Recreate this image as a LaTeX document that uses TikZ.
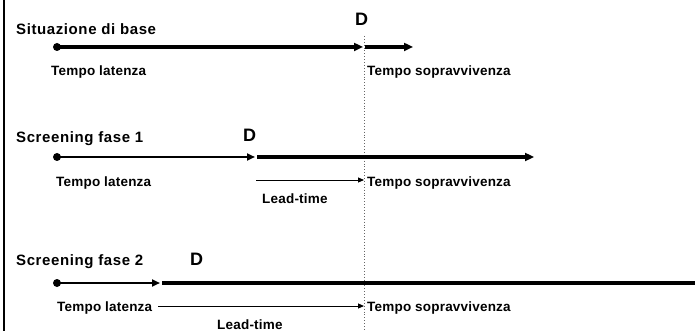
\documentclass[tikz,border=0pt]{standalone}
\usepackage{fontspec}
\setmainfont{Liberation Sans}
\usetikzlibrary{arrows.meta}
\tikzset{
  title/.style={font=\bfseries\fontsize{15}{17}\selectfont\addfontfeatures{LetterSpace=4}, anchor=base west, inner sep=0pt},
  lbl/.style={font=\bfseries\fontsize{13.5}{15}\selectfont\addfontfeatures{LetterSpace=1.5}, anchor=base west, inner sep=0pt},
  dlbl/.style={font=\bfseries\fontsize{18}{20}\selectfont, anchor=base west, inner sep=0pt},
  mainline/.style={line width=3.2pt, -{Triangle[length=9pt,width=8pt]}},
  thinmain/.style={line width=2.2pt, -{Triangle[length=8pt,width=7pt]}},
  plainmain/.style={line width=3.2pt},
  leadline/.style={line width=1pt, -{Triangle[length=6pt,width=5pt]}},
  startdot/.style={fill=black}
}
\begin{document}
\begin{tikzpicture}[x=1pt,y=-1pt]
\useasboundingbox (0,0) rectangle (695,331);
\fill[white] (0,0) rectangle (695,331);
% left border
\coordinate (bt) at (3.5,0);
\coordinate (bb) at (3.5,331);
\draw[line width=2pt] (bt) -- (bb);
% dotted diagnosis line
\coordinate (vt) at (364,36);
\coordinate (vb) at (364,331);
\draw[dotted, line width=0.9pt, gray!80!black] (vt) -- (vb);

% ---------- Row 1 ----------
\node[title] (t1) at (16,35) {Situazione di base};
\node[dlbl] (D1) at (355,26) {D};
\coordinate (s1) at (57,47);
\coordinate (d1) at (363,47);
\coordinate (d1b) at (365,47);
\coordinate (e1) at (413,47);
\draw[mainline] (s1) -- (d1);
\draw[mainline] (d1b) -- (e1);
\fill[startdot] (s1) circle (4);
\node[lbl] (l1) at (51,76) {Tempo latenza};
\node[lbl] (sv1) at (367,76) {Tempo sopravvivenza};

% ---------- Row 2 ----------
\node[title] (t2) at (16,143) {Screening fase 1};
\node[dlbl] (D2) at (243,142) {D};
\coordinate (s2) at (57,157);
\coordinate (d2) at (255,157);
\coordinate (d2b) at (257,157);
\coordinate (e2) at (534,157);
\draw[thinmain] (s2) -- (d2);
\draw[mainline] (d2b) -- (e2);
\fill[startdot] (s2) circle (4);
\node[lbl] (l2) at (56,186) {Tempo latenza};
\coordinate (lt2a) at (256,180);
\coordinate (lt2b) at (364,180);
\draw[leadline] (lt2a) -- (lt2b);
\node[lbl] (sv2) at (367,186) {Tempo sopravvivenza};
\node[lbl] (lead2) at (262,203) {Lead-time};

% ---------- Row 3 ----------
\node[title] (t3) at (16,265) {Screening fase 2};
\node[dlbl] (D3) at (190,265) {D};
\coordinate (s3) at (57,283);
\coordinate (d3) at (160,283);
\coordinate (d3b) at (162,283);
\coordinate (e3) at (695,283);
\draw[thinmain] (s3) -- (d3);
\draw[plainmain] (d3b) -- (e3);
\fill[startdot] (s3) circle (4);
\node[lbl] (l3) at (57,311) {Tempo latenza};
\coordinate (lt3a) at (158,306);
\coordinate (lt3b) at (364,306);
\draw[leadline] (lt3a) -- (lt3b);
\node[lbl] (sv3) at (367,311) {Tempo sopravvivenza};
\node[lbl] (lead3) at (217,329) {Lead-time};
\end{tikzpicture}
\end{document}
